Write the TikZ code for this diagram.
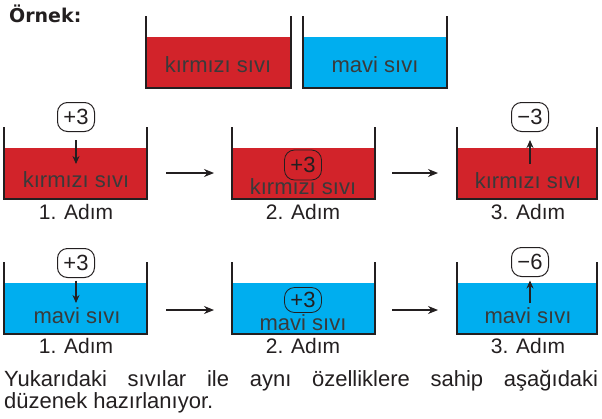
\documentclass[tikz,border=0pt]{standalone}
\usepackage{fontspec}
\setmainfont{Liberation Sans}
\newfontfamily\headfont{DejaVu Sans}
\usetikzlibrary{arrows.meta}
\definecolor{redliq}{HTML}{D2232A}
\definecolor{blueliq}{HTML}{00AEEF}
\definecolor{ink}{HTML}{231F20}
\definecolor{lblgray}{HTML}{3A3A3A}
\newcommand\beakerdraw[6]{%
  \fill[#6] (#1,#5) rectangle (#2,#4);
  \draw[wall] (#1,#3) -- (#1,#4) -- (#2,#4) -- (#2,#3);}
\tikzset{
  wall/.style={line width=2.6pt, draw=ink, line join=miter},
  opbox/.style={draw=ink, rounded corners=10pt, line width=1pt, minimum width=37pt,
    minimum height=29pt, inner sep=0pt, text=ink, font=\fontsize{22}{24}\selectfont},
  lbl/.style={text=lblgray, anchor=base, inner sep=0pt, font=\fontsize{22}{24}\selectfont},
  steplbl/.style={text=ink, anchor=base, inner sep=0pt, font=\fontsize{21}{24}\selectfont},
  dropar/.style={-{Stealth[length=8pt,width=7pt]}, line width=1.1pt, draw=ink},
  flow/.style={-{Stealth[length=10pt,width=8pt]}, line width=1.1pt, draw=ink},
  para/.style={text=ink, anchor=base west, inner sep=0pt, font=\fontsize{22}{24}\selectfont}
}
\begin{document}
\begin{tikzpicture}[x=1pt,y=-1pt]
\useasboundingbox (0,0) rectangle (602,418);

% heading
\node[text=ink, anchor=base west, inner sep=0pt, font=\headfont\bfseries\fontsize{19}{20}\selectfont] (head) at (9,22) {Örnek:};

% top example beakers
\beakerdraw{146}{291}{16}{88}{37}{redliq}
\beakerdraw{303}{447}{16}{88}{37}{blueliq}
\node[lbl] (tred) at (218,72) {kırmızı sıvı};
\node[lbl] (tblue) at (375,72) {mavi sıvı};

% ---------- row 1 (red) ----------
\beakerdraw{4}{147}{127}{199}{148}{redliq}
\beakerdraw{232}{375}{127}{199}{148}{redliq}
\beakerdraw{457}{597}{127}{199}{148}{redliq}

\node[opbox] (ra) at (76,117) {+3};
\coordinate (rat) at (76,164);
\draw[dropar, shorten <=8pt] (ra.south) -- (rat);
\node[lbl] (rla) at (76,187) {kırmızı sıvı};
\node[steplbl] (rsa) at (76,219) {1. Adım};

\node[opbox, minimum height=30pt, line width=0.8pt] (rb) at (303,165) {+3};
\node[lbl] (rlb) at (303,194) {kırmızı sıvı};
\node[steplbl] (rsb) at (303,219) {2. Adım};

\node[opbox] (rc) at (530,117) {−3};
\coordinate (rct) at (530,164);
\draw[dropar, shorten >=8pt] (rct) -- (rc.south);
\node[lbl] (rlc) at (528,188) {kırmızı sıvı};
\node[steplbl] (rsc) at (528,219) {3. Adım};

\coordinate (r1s) at (166,173);
\coordinate (r1e) at (214,173);
\coordinate (r2s) at (392,173);
\coordinate (r2e) at (438,173);
\draw[flow] (r1s) -- (r1e);
\draw[flow] (r2s) -- (r2e);

% ---------- row 2 (blue) ----------
\beakerdraw{4}{147}{262}{334}{283}{blueliq}
\beakerdraw{232}{375}{262}{334}{283}{blueliq}
\beakerdraw{457}{597}{262}{334}{283}{blueliq}

\node[opbox] (ba) at (76,263) {+3};
\coordinate (bat) at (76,303);
\draw[dropar, shorten <=2.5pt] (ba.south) -- (bat);
\node[lbl] (bla) at (77,323) {mavi sıvı};
\node[steplbl] (bsa) at (76,353) {1. Adım};

\node[opbox, minimum height=25pt, line width=0.8pt] (bb) at (303,300) {+3};
\node[lbl] (blb) at (303,330) {mavi sıvı};
\node[steplbl] (bsb) at (303,353) {2. Adım};

\node[opbox] (bc) at (530,262) {−6};
\coordinate (bct) at (530,303);
\draw[dropar, shorten >=3.5pt] (bct) -- (bc.south);
\node[lbl] (blc) at (528,323) {mavi sıvı};
\node[steplbl] (bsc) at (528,353) {3. Adım};

\coordinate (b1s) at (166,310);
\coordinate (b1e) at (214,310);
\coordinate (b2s) at (392,310);
\coordinate (b2e) at (438,310);
\draw[flow] (b1s) -- (b1e);
\draw[flow] (b2s) -- (b2e);

% ---------- paragraph ----------
\node[para] (p1) at (4,386) {\makebox[594pt][s]{Yukarıdaki sıvılar ile aynı özelliklere sahip aşağıdaki}};
\node[para] (p2) at (4,408) {düzenek hazırlanıyor.};
\end{tikzpicture}
\end{document}
